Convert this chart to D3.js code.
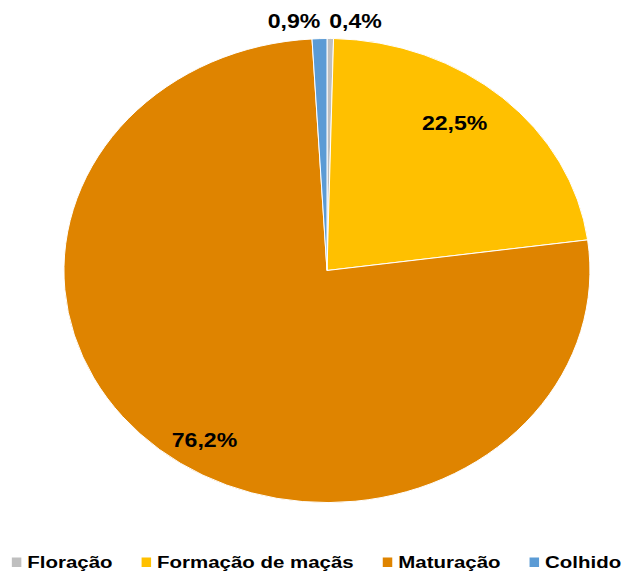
<!DOCTYPE html>
<html>
<head>
<meta charset="utf-8">
<script src="https://cdn.jsdelivr.net/npm/d3@7"></script>
<style>
  body { margin: 0; background: #fff; }
  svg { display: block; }
  text { font-family: "Liberation Sans", Arial, sans-serif; font-weight: bold; fill: #000; }
</style>
</head>
<body>
<div id="chart"></div>
<script>
// Dados do gráfico (ordem no sentido horário a partir das 12h)
const categorias = ["Floração", "Formação de maçãs", "Maturação", "Colhido"];
const valores = [0.4, 22.5, 76.2, 0.9];
const rotulos = ["0,4%", "22,5%", "76,2%", "0,9%"];
const cores = ["#BFBFBF", "#FFC000", "#DF8400", "#5B9BD5"];

const width = 624, height = 572;
const cx = 327, cy = 270.5, rx = 263, ry = 232;

const svg = d3.select("#chart")
    .append("svg")
    .attr("width", width)
    .attr("height", height);

const data = categorias.map((c, i) => ({ cat: c, value: valores[i], label: rotulos[i], color: cores[i] }));

const pie = d3.pie().sort(null).value(d => d.value);
const arcs = pie(data);

// círculo unitário esticado para elipse
const arc = d3.arc().innerRadius(0).outerRadius(1);

const g = svg.append("g")
    .attr("transform", `translate(${cx},${cy}) scale(${rx},${ry})`);

g.selectAll("path")
    .data(arcs)
    .enter()
    .append("path")
    .attr("d", arc)
    .attr("fill", d => d.data.color)
    .attr("stroke", "#fff")
    .attr("stroke-width", 1)
    .attr("vector-effect", "non-scaling-stroke");

// posição dos rótulos ("melhor ajuste"): deslocamento angular e raio
const ajuste = {
    "Formação de maçãs": { da: -4.6, r: 0.80 },
    "Maturação": { da: -7.0, r: 0.865 }
};

function posRotulo(d) {
    const mid = (d.startAngle + d.endAngle) / 2;
    const frac = d.data.value / 100;
    if (frac > 0.05) {
        const a = ajuste[d.data.cat] || { da: 0, r: 0.75 };
        const ang = mid + a.da * Math.PI / 180;
        return [cx + Math.sin(ang) * rx * a.r, cy - Math.cos(ang) * ry * a.r + 7];
    }
    // fatias pequenas: fora da pizza, afastadas para os lados
    const lado = Math.sin(mid) >= 0 ? 1 : -1;
    return [cx + Math.sin(mid) * rx * 1.075 + lado * 25, cy - ry * 1.075 + 7];
}

svg.append("g")
    .selectAll("g")
    .data(arcs)
    .enter()
    .append("g")
    .attr("transform", d => {
        const p = posRotulo(d);
        return `translate(${p[0]},${p[1]}) scale(1.1,1)`;
    })
    .append("text")
    .attr("text-anchor", "middle")
    .style("font-size", "21px")
    .text(d => d.data.label);

// Legenda
const legY = 567.5, sq = 9.5, gapSq = 6, gapItem = 29, esc = 1.24;
const leg = svg.append("g");
const itens = leg.selectAll("g")
    .data(data)
    .enter()
    .append("g");

itens.append("rect")
    .attr("width", sq)
    .attr("height", sq)
    .attr("y", legY - 10)
    .attr("fill", d => d.color);

itens.append("g")
    .attr("class", "lt")
    .attr("transform", `translate(${sq + gapSq},${legY}) scale(${esc},1)`)
    .append("text")
    .style("font-size", "16.5px")
    .text(d => d.cat);

let x = 0;
const larg = [];
itens.each(function () {
    const w = d3.select(this).select("text").node().getComputedTextLength() * esc;
    larg.push(sq + gapSq + w);
});
const total = d3.sum(larg) + gapItem * (larg.length - 1);
let x0 = 316.5 - total / 2;
itens.attr("transform", (d, i) => {
    const t = `translate(${x0},0)`;
    x0 += larg[i] + gapItem;
    return t;
});
</script>
</body>
</html>
